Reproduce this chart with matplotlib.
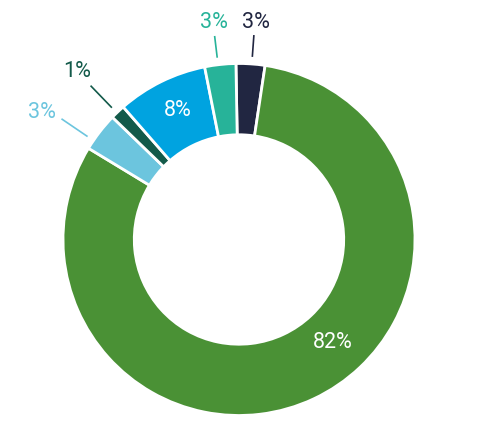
import numpy as np
import matplotlib
matplotlib.use("Agg")
import matplotlib.pyplot as plt

# data (clockwise from top)
categories = ["Navy", "Green", "Light blue", "Dark green", "Blue", "Teal"]
values = [2.65, 81.3, 3.55, 1.35, 8.3, 2.85]
labels = ["3%", "82%", "3%", "1%", "8%", "3%"]
colors = ["#212641", "#4a9135", "#6cc5de", "#135a4a", "#00a3e0", "#27b399"]

plt.rcParams['font.family'] = ['Roboto', 'DejaVu Sans']

fig = plt.figure(figsize=(4.8, 4.24), dpi=100)
ax = fig.add_axes([0, 0, 1, 1])
R = 176.0
cx, cy = 239.0, 184.5  # pixel center from left/bottom
wedges, _ = ax.pie(values, colors=colors, startangle=91, counterclock=False,
                   radius=1.0, wedgeprops=dict(width=0.405, edgecolor="white", linewidth=2))
ax.set_xlim(-cx / R, (480 - cx) / R)
ax.set_ylim(-cy / R, (424 - cy) / R)
ax.set_aspect('auto')
ax.axis('off')

# label placement: inside (white) or outside (with leader line)
inside = [False, True, False, False, True, False]
label_r = [1.238, 0.792, 1.333, 1.324, 0.813, 1.244]
label_shift = [-0.6, 17.3, 4.7, 0.4, -0.8, 0.5]   # degrees, counterclockwise
line_shift = [-0.4, 0, 3.4, 0.4, 0, 0.7]
line_outer = [1.16, 0, 1.215, 1.21, 0, 1.16]

for w, lab, ins, r, sh, lsh, lo, c in zip(wedges, labels, inside, label_r,
                                          label_shift, line_shift, line_outer, colors):
    mid = (w.theta1 + w.theta2) / 2
    th = np.deg2rad(mid + sh)
    x, y = np.cos(th), np.sin(th)
    if ins:
        ax.text(r * x, r * y, lab, color="white", fontsize=15.5,
                ha="center", va="center")
    else:
        tl = np.deg2rad(mid + lsh)
        ax.plot([1.045 * np.cos(tl), lo * np.cos(tl)],
                [1.045 * np.sin(tl), lo * np.sin(tl)], color=c, lw=1.2)
        ax.text(r * x, r * y, lab, color=c, fontsize=15.5,
                ha="center", va="center")

fig.savefig("out.png", dpi=100)
